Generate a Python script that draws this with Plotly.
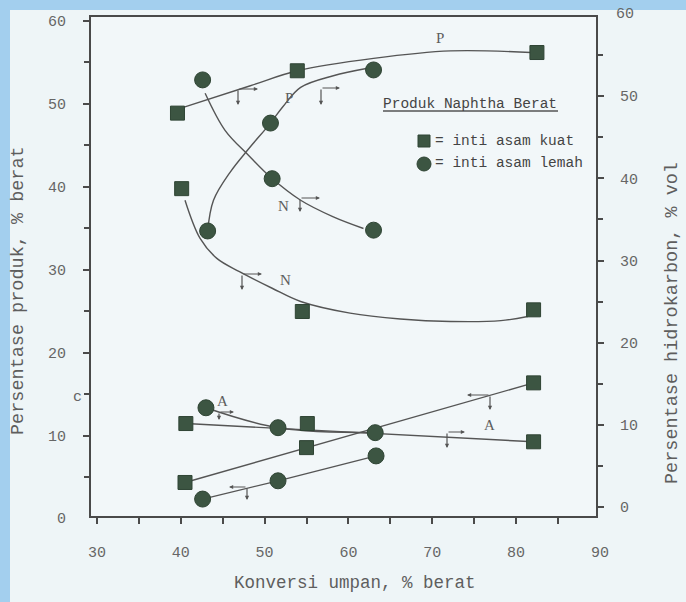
import plotly.graph_objects as go

# ---------------- data ----------------
# inti asam kuat (squares)
kuat_P_x = [39.6, 53.9, 82.5]; kuat_P_y = [48.9, 54.0, 56.2]
kuat_N_x = [40.1, 54.5, 82.1]; kuat_N_y = [39.8, 25.0, 25.2]
kuat_A_x = [40.6, 55.1, 82.1]; kuat_A_y = [11.5, 11.5, 9.3]
kuat_B_x = [40.5, 55.0, 82.1]; kuat_B_y = [4.4, 8.6, 16.4]
# inti asam lemah (circles)
lemah_P_x = [43.2, 50.7, 63.0]; lemah_P_y = [34.7, 47.7, 54.1]
lemah_N_x = [42.6, 50.9, 63.0]; lemah_N_y = [52.9, 41.0, 34.8]
lemah_A_x = [43.0, 51.6, 63.2]; lemah_A_y = [13.4, 11.0, 10.4]
lemah_B_x = [42.6, 51.6, 63.3]; lemah_B_y = [2.4, 4.6, 7.6]

# hand-drawn fitted curves
kuat_P_fit_x = [40.3, 48.3, 53.9, 63.0, 72.2, 81.8]
kuat_P_fit_y = [49.6, 52.2, 54.0, 55.5, 56.4, 56.2]
kuat_N_fit_x = [40.5, 42.3, 44.3, 47.0, 50.9, 54.3, 60.2, 66.2, 72.2, 78.2, 81.4]
kuat_N_fit_y = [38.4, 33.8, 31.4, 29.8, 27.8, 26.2, 24.8, 24.1, 23.8, 23.9, 24.4]
lemah_N_fit_x = [42.9, 45.3, 48.1, 50.7, 54.3, 58.2, 61.8]
lemah_N_fit_y = [51.3, 46.8, 43.8, 41.2, 38.4, 36.4, 35.0]
lemah_P_fit_x = [43.2, 43.9, 45.9, 48.1, 50.7, 52.2, 54.3, 58.2, 62.3]
lemah_P_fit_y = [34.7, 38.4, 41.8, 44.6, 47.7, 49.7, 52.0, 53.4, 54.3]
kuat_A_fit_x = [40.6, 82.1]
kuat_A_fit_y = [11.5, 9.3]

x_ticks = [30, 40, 50, 60, 70, 80]
y_ticks = [10, 20, 30, 40, 50, 60]
y2_ticks = [0, 10, 20, 30, 40, 50]

# ---------------- style ----------------
W, H = 686, 602
L, R, T, B = 91, 596, 17, 516          # plot area in pixels
XR = [29.28, 89.55]
YR = [0.36, 60.48]
Y2R = [-1.095, 59.635]
MONO = "Liberation Mono, Courier New, monospace"
SERIF = "Liberation Serif, Times New Roman, serif"
MK = "#3c5542"
LN = "#555555"
AX = "#4a4a4a"
TXT = "#5e5e5e"
PAPER = "#eef5f7"
PLOT = "#f2f7f9"
BLUE = "#a3cfee"


def px2x(px):
    return XR[0] + (px - L) / (R - L) * (XR[1] - XR[0])


def px2y(py):
    return YR[0] + (B - py) / (B - T) * (YR[1] - YR[0])


def px2paper(px, py):
    return (px - L) / (R - L), (B - py) / (B - T)


fig = go.Figure()


def line(x, y, shape="spline"):
    fig.add_trace(go.Scatter(x=x, y=y, mode="lines", line=dict(color=LN, width=1.4, shape=shape,
                                                               smoothing=1.0),
                             hoverinfo="skip", showlegend=False))


line(kuat_P_fit_x, kuat_P_fit_y)
line(kuat_N_fit_x, kuat_N_fit_y)
line(lemah_N_fit_x, lemah_N_fit_y)
line(lemah_P_fit_x, lemah_P_fit_y)
line(kuat_A_fit_x, kuat_A_fit_y, "linear")
line(lemah_A_x, lemah_A_y)
line(kuat_B_x, kuat_B_y, "linear")
line(lemah_B_x, lemah_B_y, "linear")


def markers(x, y, sym, size):
    fig.add_trace(go.Scatter(x=x, y=y, mode="markers",
                             marker=dict(symbol=sym, size=size, color=MK,
                                         line=dict(color="#2f4434", width=1)),
                             showlegend=False))


for xs, ys in [(kuat_P_x, kuat_P_y), (kuat_N_x, kuat_N_y), (kuat_A_x, kuat_A_y), (kuat_B_x, kuat_B_y)]:
    markers(xs, ys, "square", 14)
for xs, ys in [(lemah_P_x, lemah_P_y), (lemah_N_x, lemah_N_y), (lemah_A_x, lemah_A_y), (lemah_B_x, lemah_B_y)]:
    markers(xs, ys, "circle", 16)

# legend markers (inside the plot)
markers([px2x(424)], [px2y(141)], "square", 12)
markers([px2x(424)], [px2y(164)], "circle", 14)

# invisible trace for y2 axis
fig.add_trace(go.Scatter(x=[XR[0]], y=[0], yaxis="y2", mode="markers",
                         marker=dict(opacity=0), hoverinfo="skip", showlegend=False))

annotations = []
shapes = []

# axis-indicator arrows: (corner_px, corner_py, horizontal length (+right/-left), down length)
indicators = [
    (238, 89, 20, 16), (321, 88, 19, 17), (300, 198, 20, 14), (242, 274, 20, 16),
    (219, 412, 15, 8), (247, 487, -18, 13), (447, 432, 18, 16), (490, 395, -23, 15),
]
for cx, cy, hl, dl in indicators:
    annotations.append(dict(x=px2x(cx + hl), y=px2y(cy), ax=-hl, ay=0, xref="x", yref="y",
                            showarrow=True, arrowhead=2, arrowsize=0.7, arrowwidth=1.2,
                            arrowcolor=LN, text=""))
    annotations.append(dict(x=px2x(cx), y=px2y(cy + dl), ax=0, ay=-dl, xref="x", yref="y",
                            showarrow=True, arrowhead=2, arrowsize=0.7, arrowwidth=1.2,
                            arrowcolor=LN, text=""))

# curve labels
for t, px, py in [("P", 440, 38), ("P", 289, 98), ("N", 283, 206), ("N", 285, 280),
                  ("A", 222, 401), ("A", 489, 425)]:
    annotations.append(dict(x=px2x(px), y=px2y(py), text=t, showarrow=False,
                            xanchor="center", yanchor="middle",
                            font=dict(family=SERIF, size=15, color=TXT)))

# legend text
lx, ly = px2paper(470, 104)
annotations.append(dict(x=lx, y=ly, xref="paper", yref="paper", text="Produk Naphtha Berat",
                        xanchor="center", yanchor="middle",
                        showarrow=False, font=dict(family=MONO, size=14.5, color="#444")))
ux0, uy = px2paper(383, 111)
ux1, _ = px2paper(558, 111)
shapes.append(dict(type="line", xref="paper", yref="paper", x0=ux0, x1=ux1, y0=uy, y1=uy,
                   line=dict(color="#555", width=1.3)))
for t, py in [("= inti asam kuat", 141), ("= inti asam lemah", 163)]:
    tx, ty = px2paper(433, py)
    annotations.append(dict(x=tx, y=ty, xref="paper", yref="paper", text=t,
                            xanchor="left", yanchor="middle",
                            showarrow=False, font=dict(family=MONO, size=14.5, color="#444")))

# out-of-range tick labels
for t, px, py in [("90", 600, 553), ("0", 61, 519), ("60", 625, 14), ("c", 77, 397)]:
    tx, ty = px2paper(px, py)
    annotations.append(dict(x=tx, y=ty, xref="paper", yref="paper", text=t, showarrow=False,
                            xanchor="center", yanchor="middle",
                            font=dict(family=MONO, size=15, color="#666")))

# axis titles
tx, ty = px2paper(355, 583)
annotations.append(dict(x=tx, y=ty, xref="paper", yref="paper", text="Konversi umpan, % berat",
                        xanchor="center", yanchor="middle",
                        showarrow=False, font=dict(family=MONO, size=17.5, color=TXT)))
tx, ty = px2paper(18, 291)
annotations.append(dict(x=tx, y=ty, xref="paper", yref="paper", text="Persentase produk, % berat",
                        xanchor="center", yanchor="middle",
                        textangle=-90, showarrow=False, font=dict(family=MONO, size=18.5, color=TXT)))
tx, ty = px2paper(672, 323)
annotations.append(dict(x=tx, y=ty, xref="paper", yref="paper", text="Persentase hidrokarbon, % vol",
                        xanchor="center", yanchor="middle",
                        textangle=-90, showarrow=False, font=dict(family=MONO, size=18.5, color=TXT)))

# scan borders (light blue strips), sized in pixels
shapes.append(dict(type="rect", xref="paper", yref="paper",
                   xsizemode="pixel", xanchor=0, x0=-L, x1=-L + 10,
                   ysizemode="pixel", yanchor=0, y0=-(H - B), y1=B,
                   fillcolor=BLUE, line=dict(width=0), layer="above"))
shapes.append(dict(type="rect", xref="paper", yref="paper",
                   xsizemode="pixel", xanchor=0, x0=-L, x1=W - L,
                   ysizemode="pixel", yanchor=1, y0=T - 10, y1=T,
                   fillcolor=BLUE, line=dict(width=0), layer="above"))

tickfont = dict(family=MONO, size=15, color="#666")
fig.update_layout(
    width=W, height=H,
    margin=dict(l=L, r=W - R, t=T, b=H - B, autoexpand=False),
    paper_bgcolor=PAPER, plot_bgcolor=PLOT,
    showlegend=False,
    xaxis=dict(range=XR, showgrid=False, zeroline=False, showline=True, linecolor=AX, linewidth=2,
               mirror=True, ticks="outside", ticklen=6, tickwidth=1.5, tickcolor=AX,
               tickvals=x_ticks, ticktext=[str(v) for v in x_ticks], tickfont=tickfont,
               ticklabelstandoff=15, automargin=False,
               minor=dict(tickvals=[35, 45, 55, 65, 75, 85], ticks="outside", ticklen=6,
                          tickwidth=1.5, tickcolor=AX)),
    yaxis=dict(range=YR, showgrid=False, zeroline=False, showline=True, linecolor=AX, linewidth=2,
               ticks="outside", ticklen=6, tickwidth=1.5, tickcolor=AX,
               tickvals=y_ticks, ticktext=[str(v) for v in y_ticks], tickfont=tickfont,
               ticklabelstandoff=14, automargin=False,
               minor=dict(tickvals=[5, 15, 25, 35, 45, 55], ticks="outside", ticklen=5,
                          tickwidth=1.5, tickcolor=AX)),
    yaxis2=dict(range=Y2R, overlaying="y", side="right", showgrid=False, zeroline=False,
                showline=True, linecolor=AX, linewidth=2,
                ticks="outside", ticklen=6, tickwidth=1.5, tickcolor=AX,
                tickvals=y2_ticks, ticktext=[str(v) for v in y2_ticks], tickfont=tickfont,
                ticklabelstandoff=13, automargin=False,
                minor=dict(tickvals=[5, 15, 25, 35, 45, 55], ticks="outside", ticklen=5,
                           tickwidth=1.5, tickcolor=AX)),
    annotations=annotations,
    shapes=shapes,
)

fig.write_html("out.html", config={"displayModeBar": False},
               post_script="document.body.style.margin='0px';document.body.style.background='%s';" % PAPER)
